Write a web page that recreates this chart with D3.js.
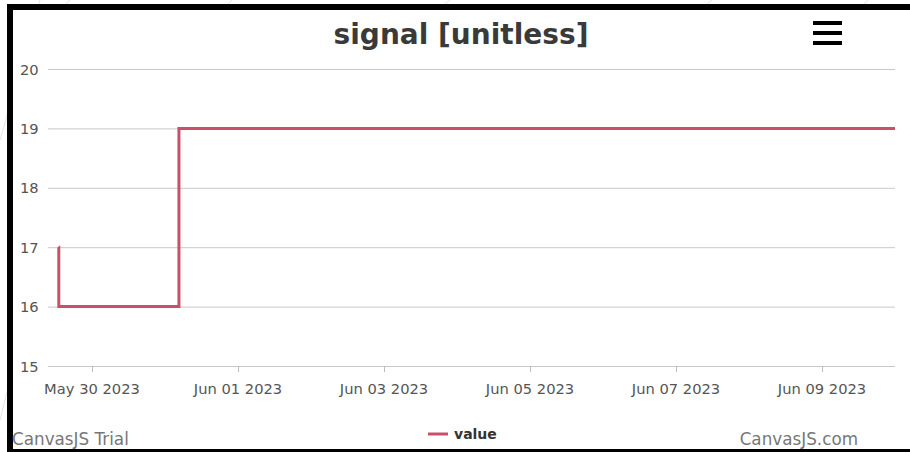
<!DOCTYPE html>
<html><head><meta charset="utf-8">
<script src="https://cdn.jsdelivr.net/npm/d3@7"></script>
<style>body{margin:0;background:#fff}svg{display:block}</style>
</head><body>
<script>
const title = "signal [unitless]";
const seriesName = "value";
const times = ["2023-05-29T13:00:00Z","2023-05-29T13:05:00Z","2023-05-31T04:35:00Z","2023-06-10T00:00:00Z"];
const values = [17, 16, 19, 19];
const yTicks = [15, 16, 17, 18, 19, 20];
const xTickDates = ["2023-05-30","2023-06-01","2023-06-03","2023-06-05","2023-06-07","2023-06-09"];
const xTickLabels = ["May 30 2023","Jun 01 2023","Jun 03 2023","Jun 05 2023","Jun 07 2023","Jun 09 2023"];
const xDomain = ["2023-05-29T09:32:00Z","2023-06-10T00:00:00Z"];

const W = 910, H = 452;
const svg = d3.select("body").append("svg").attr("width", W).attr("height", H);
const font = "'DejaVu Sans', Verdana, sans-serif";

// faint background diagonals outside frame
const bg = svg.append("g").attr("stroke", "#e4e4e4").attr("stroke-width", 1);
[[0,140,40,0],[0,420,30,300],[60,10,70,0],[220,12,232,0],[440,8,450,0],[700,10,712,0],[860,8,868,0]].forEach(l=>{
  bg.append("line").attr("x1",l[0]).attr("y1",l[1]).attr("x2",l[2]).attr("y2",l[3]);
});

// frame
svg.append("rect").attr("x",13).attr("y",10).attr("width",W-13).attr("height",439).attr("fill","#fff");
svg.append("rect").attr("x",7).attr("y",4).attr("width",W-7).attr("height",6).attr("fill","#000");
svg.append("rect").attr("x",7).attr("y",4).attr("width",6).attr("height",H-4).attr("fill","#000");
svg.append("rect").attr("x",7).attr("y",449).attr("width",W-7).attr("height",3).attr("fill","#000");

const x = d3.scaleUtc().domain(xDomain.map(d=>new Date(d))).range([48, 895]);
const y = d3.scaleLinear().domain([15, 20]).range([366, 69]);

// gridlines
svg.append("g").selectAll("line").data(yTicks).join("line")
  .attr("x1", 48).attr("x2", 895)
  .attr("y1", d=>y(d)+0.5).attr("y2", d=>y(d)+0.5)
  .attr("stroke", "#c8c8c8").attr("stroke-width", 1);

// y labels
svg.append("g").selectAll("text").data(yTicks).join("text")
  .attr("x", 20).attr("y", d=>y(d)+5.5)
  .attr("font-family", font).attr("font-size", 14.7).attr("fill", "#555")
  .text(d=>d);

// x ticks
const xt = xTickDates.map(d=>new Date(d+"T00:00:00Z"));
svg.append("g").selectAll("line").data(xt).join("line")
  .attr("x1", d=>Math.round(x(d))+0.5).attr("x2", d=>Math.round(x(d))+0.5)
  .attr("y1", 366).attr("y2", 372).attr("stroke", "#bbb");
svg.append("g").selectAll("text").data(xt).join("text")
  .attr("x", d=>x(d)).attr("y", 394).attr("text-anchor","middle")
  .attr("font-family", font).attr("font-size", 14.7).attr("fill", "#555")
  .text((d,i)=>xTickLabels[i]);

// line
const data = times.map((t,i)=>({t:new Date(t), v:values[i]}));
svg.append("path").datum(data)
  .attr("d", d3.line().x(d=>x(d.t)).y(d=>y(d.v)).curve(d3.curveStepAfter))
  .attr("fill","none").attr("stroke","#c9506a").attr("stroke-width",3)
  .attr("stroke-linejoin","miter");

// title
svg.append("text").attr("x", 461).attr("y", 44).attr("text-anchor","middle")
  .attr("font-family", font).attr("font-weight","bold").attr("font-size", 28).attr("fill","#3a3a3a")
  .text(title);

// menu icon
[23,33,43].forEach(yy=>svg.append("rect").attr("x",813).attr("y",yy-2).attr("width",29).attr("height",4).attr("fill","#000"));

// legend
svg.append("line").attr("x1",428).attr("x2",448).attr("y1",434).attr("y2",434).attr("stroke","#c9506a").attr("stroke-width",3);
svg.append("text").attr("x",454).attr("y",439).attr("font-family",font).attr("font-weight","bold").attr("font-size",14).attr("fill","#333").text(seriesName);

// credits
svg.append("text").attr("x",12).attr("y",445).attr("font-family",font).attr("font-size",16.8).attr("fill","#777").text("CanvasJS Trial");
svg.append("text").attr("x",858).attr("y",445).attr("text-anchor","end").attr("font-family",font).attr("font-size",16.8).attr("fill","#777").text("CanvasJS.com");
</script>
</body></html>
